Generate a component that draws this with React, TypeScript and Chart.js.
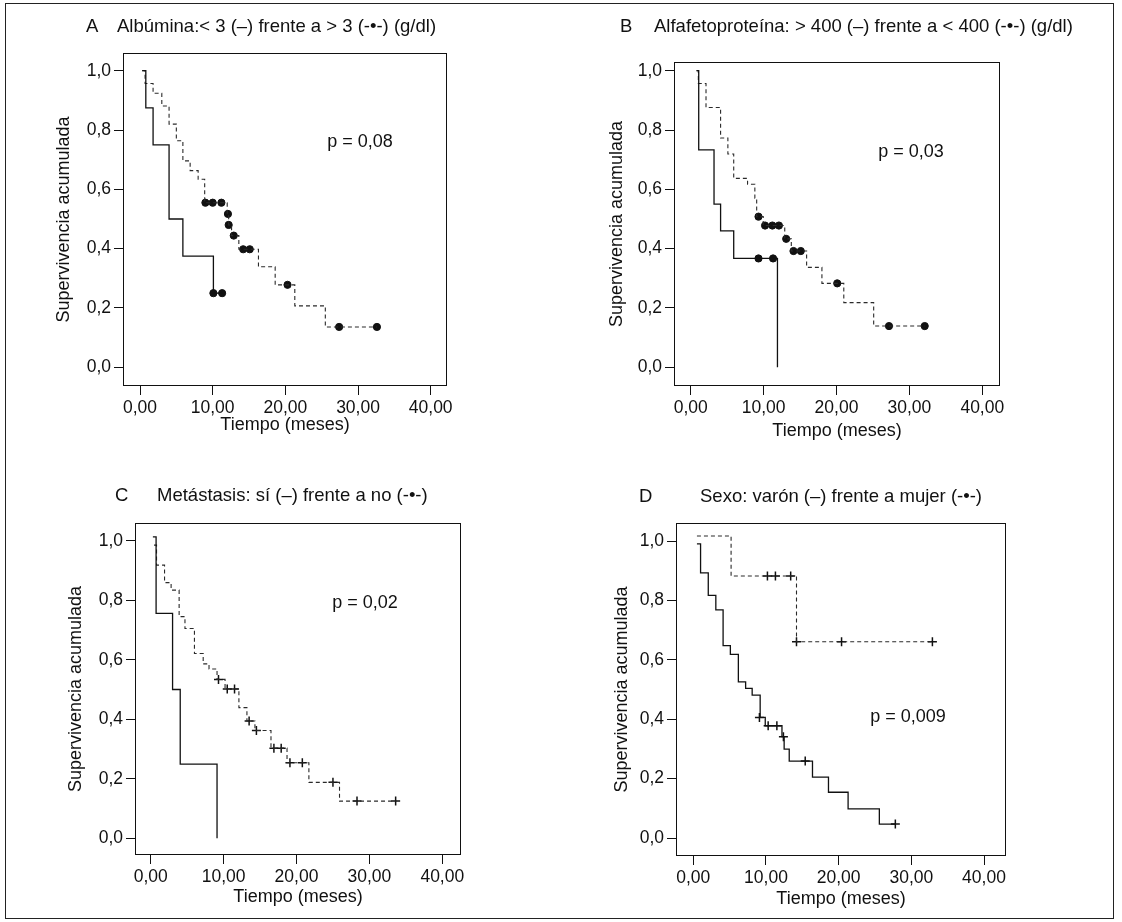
import React, { useEffect, useRef } from "react";
import { Chart, registerables } from "chart.js";

Chart.register(...registerables);

const FONT = '"Liberation Sans", Arial, Helvetica, sans-serif';

// ---- tick values ----
const xTickValues = [0, 10, 20, 30, 40];
const yTickValues = [0, 0.2, 0.4, 0.6, 0.8, 1.0];

// ---- Panel A: Albúmina ----
const albLowTimes = [0.3, 0.8, 1.8, 4.0, 5.9, 10.1, 11.3];
const albLowSurv = [1.0, 0.875, 0.75, 0.5, 0.375, 0.25, 0.25];
const albLowCensTimes = [10.1, 11.3];
const albLowCensSurv = [0.25, 0.25];

const albHighTimes = [0.3, 0.7, 1.8, 3.0, 4.0, 5.0, 5.9, 6.9, 8.0, 8.9, 12.0, 12.2, 12.6, 13.6, 16.3, 18.6, 21.3, 25.5, 32.6];
const albHighSurv = [1.0, 0.957, 0.924, 0.881, 0.82, 0.764, 0.696, 0.663, 0.634, 0.555, 0.517, 0.48, 0.444, 0.398, 0.339, 0.278, 0.207, 0.136, 0.136];
const albHighCensTimes = [9.0, 10.0, 11.2, 12.1, 12.2, 12.9, 14.2, 15.1, 20.3, 27.4, 32.6];
const albHighCensSurv = [0.555, 0.555, 0.555, 0.517, 0.48, 0.444, 0.398, 0.398, 0.278, 0.136, 0.136];

// ---- Panel B: Alfafetoproteína ----
const afpHighTimes = [0.8, 1.1, 3.2, 4.1, 5.9, 11.9];
const afpHighSurv = [1.0, 0.733, 0.55, 0.46, 0.367, 0.0];
const afpHighCensTimes = [9.3, 11.3];
const afpHighCensSurv = [0.367, 0.367];

const afpLowTimes = [0.8, 1.05, 2.1, 4.1, 5.1, 5.9, 7.8, 8.8, 9.05, 9.95, 12.9, 13.8, 15.9, 18.0, 21.0, 25.1, 32.1];
const afpLowSurv = [1.0, 0.957, 0.876, 0.773, 0.719, 0.637, 0.617, 0.57, 0.508, 0.478, 0.433, 0.392, 0.337, 0.283, 0.218, 0.139, 0.139];
const afpLowCensTimes = [9.3, 10.2, 11.2, 12.1, 13.1, 14.1, 15.1, 20.1, 27.2, 32.1];
const afpLowCensSurv = [0.508, 0.478, 0.478, 0.478, 0.433, 0.392, 0.392, 0.283, 0.139, 0.139];

// ---- Panel C: Metástasis ----
const metYesTimes = [0.3, 0.74, 3.0, 4.05, 9.1];
const metYesSurv = [1.013, 0.756, 0.5, 0.249, 0.0];

const metNoTimes = [0.45, 0.8, 1.9, 2.8, 3.9, 4.7, 6.0, 7.2, 8.0, 9.1, 10.2, 12.1, 13.2, 14.3, 16.5, 18.7, 21.7, 25.9, 33.6];
const metNoSurv = [0.985, 0.918, 0.859, 0.834, 0.745, 0.705, 0.621, 0.586, 0.569, 0.534, 0.502, 0.439, 0.394, 0.362, 0.303, 0.254, 0.188, 0.125, 0.125];
const metNoCensTimes = [9.3, 10.5, 11.5, 13.5, 14.5, 16.9, 17.9, 19.1, 20.8, 25.0, 28.3, 33.6];
const metNoCensSurv = [0.534, 0.502, 0.502, 0.394, 0.362, 0.303, 0.303, 0.254, 0.254, 0.188, 0.125, 0.125];

// ---- Panel D: Sexo ----
const maleTimes = [0.5, 1.0, 2.06, 3.1, 4.1, 5.1, 6.2, 7.2, 8.1, 9.2, 9.9, 12.2, 12.5, 13.2, 16.4, 18.6, 21.3, 25.6, 27.8];
const maleSurv = [0.99, 0.893, 0.817, 0.768, 0.648, 0.618, 0.526, 0.504, 0.481, 0.406, 0.378, 0.341, 0.299, 0.259, 0.205, 0.154, 0.098, 0.047, 0.047];
const maleCensTimes = [9.1, 10.3, 11.5, 12.4, 15.4, 27.8];
const maleCensSurv = [0.406, 0.378, 0.378, 0.341, 0.259, 0.047];

const femaleTimes = [0.5, 5.2, 14.2, 32.9];
const femaleSurv = [1.017, 0.882, 0.661, 0.661];
const femaleCensTimes = [10.2, 11.3, 13.4, 14.2, 20.4, 32.9];
const femaleCensSurv = [0.882, 0.882, 0.882, 0.661, 0.661, 0.661];

type Curve = {
  t: number[];
  s: number[];
  ct: number[];
  cs: number[];
  dashed: boolean;
};

type PanelCfg = {
  id: string;
  letter: string;
  title: string;
  pText: string;
  marker: "circle" | "cross";
  curves: Curve[];
  box: { L: number; R: number; T: number; B: number };
  x0: number;
  x40: number;
  y1: number;
  y0: number;
  yTitleCx: number;
  xTitleCy: number;
  letterX: number;
  titleX: number;
  titleBase: number;
  pX: number;
  pY: number;
};

const panels: PanelCfg[] = [
  {
    id: "A",
    letter: "A",
    title: "Albúmina:< 3 (–) frente a > 3 (-•-) (g/dl)",
    pText: "p = 0,08",
    marker: "circle",
    curves: [
      { t: albLowTimes, s: albLowSurv, ct: albLowCensTimes, cs: albLowCensSurv, dashed: false },
      { t: albHighTimes, s: albHighSurv, ct: albHighCensTimes, cs: albHighCensSurv, dashed: true },
    ],
    box: { L: 123, R: 447, T: 53, B: 386 },
    x0: 140, x40: 430.7, y1: 70.7, y0: 367.3,
    yTitleCx: 64, xTitleCy: 425,
    letterX: 86, titleX: 117, titleBase: 33,
    pX: 360, pY: 141,
  },
  {
    id: "B",
    letter: "B",
    title: "Alfafetoproteína: > 400 (–) frente a < 400 (-•-) (g/dl)",
    pText: "p = 0,03",
    marker: "circle",
    curves: [
      { t: afpHighTimes, s: afpHighSurv, ct: afpHighCensTimes, cs: afpHighCensSurv, dashed: false },
      { t: afpLowTimes, s: afpLowSurv, ct: afpLowCensTimes, cs: afpLowCensSurv, dashed: true },
    ],
    box: { L: 674, R: 1000, T: 62, B: 386 },
    x0: 690.7, x40: 982.3, y1: 70.7, y0: 367.3,
    yTitleCx: 617, xTitleCy: 431,
    letterX: 620, titleX: 654, titleBase: 33,
    pX: 911, pY: 151,
  },
  {
    id: "C",
    letter: "C",
    title: "Metástasis: sí (–) frente a no (-•-)",
    pText: "p = 0,02",
    marker: "cross",
    curves: [
      { t: metYesTimes, s: metYesSurv, ct: [], cs: [], dashed: false },
      { t: metNoTimes, s: metNoSurv, ct: metNoCensTimes, cs: metNoCensSurv, dashed: true },
    ],
    box: { L: 135, R: 461, T: 523, B: 855 },
    x0: 150.7, x40: 442.3, y1: 540.7, y0: 838.3,
    yTitleCx: 76, xTitleCy: 897,
    letterX: 115, titleX: 157, titleBase: 502,
    pX: 365, pY: 602,
  },
  {
    id: "D",
    letter: "D",
    title: "Sexo: varón (–) frente a mujer (-•-)",
    pText: "p = 0,009",
    marker: "cross",
    curves: [
      { t: maleTimes, s: maleSurv, ct: maleCensTimes, cs: maleCensSurv, dashed: false },
      { t: femaleTimes, s: femaleSurv, ct: femaleCensTimes, cs: femaleCensSurv, dashed: true },
    ],
    box: { L: 676, R: 1006, T: 523, B: 856 },
    x0: 693.3, x40: 984, y1: 541, y0: 838,
    yTitleCx: 622, xTitleCy: 899,
    letterX: 639, titleX: 700, titleBase: 503,
    pX: 908, pY: 716,
  },
];

const TICK_FS = 17.5;
const TITLE_FS = 18.5;
const AXIS_FS = 18;
const P_FS = 18;
const INK = "#111";

const boxPlugin = {
  id: "plotBox",
  afterDraw(chart: any) {
    const { ctx, chartArea: a } = chart;
    ctx.save();
    ctx.strokeStyle = INK;
    ctx.lineWidth = 1;
    ctx.strokeRect(a.left + 0.5, a.top + 0.5, a.right - a.left - 1, a.bottom - a.top - 1);
    ctx.restore();
  },
};

function Panel({ cfg }: { cfg: PanelCfg }) {
  const ref = useRef<HTMLCanvasElement | null>(null);

  const lh = AXIS_FS * 1.2;
  const canvasLeft = Math.floor(cfg.yTitleCx - 20);
  const canvasTop = cfg.box.T - 20;
  const canvasRight = cfg.box.R + 10;
  const canvasBottom = Math.ceil(cfg.xTitleCy + lh / 2 + 4);
  const width = canvasRight - canvasLeft;
  const height = canvasBottom - canvasTop;
  const yScaleW = cfg.box.L - canvasLeft;
  const xScaleH = canvasBottom - cfg.box.B;
  const yTitlePad = cfg.yTitleCx - canvasLeft - lh / 2;
  const xTitlePad = canvasBottom - cfg.xTitleCy - lh / 2;

  const pxPerX = (cfg.x40 - cfg.x0) / 40;
  const xMin = (cfg.box.L - cfg.x0) / pxPerX;
  const xMax = (cfg.box.R - cfg.x0) / pxPerX;
  const pxPerY = cfg.y0 - cfg.y1;
  const yMax = (cfg.y0 - cfg.box.T) / pxPerY;
  const yMin = (cfg.y0 - cfg.box.B) / pxPerY;

  useEffect(() => {
    if (!ref.current) return;
    const datasets: any[] = [];
    cfg.curves.forEach((c) => {
      datasets.push({
        type: "line",
        data: c.t.map((x, i) => ({ x, y: c.s[i] })),
        stepped: true,
        borderColor: c.dashed ? "#2a2a2a" : INK,
        borderWidth: c.dashed ? 1.1 : 1.3,
        borderDash: c.dashed ? [4, 3] : [],
        pointRadius: 0,
        fill: false,
        tension: 0,
      });
    });
    cfg.curves.forEach((c) => {
      if (!c.ct.length) return;
      datasets.push({
        type: "scatter",
        data: c.ct.map((x, i) => ({ x, y: c.cs[i] })),
        showLine: false,
        pointStyle: cfg.marker,
        pointRadius: cfg.marker === "circle" ? 3.6 : 4.5,
        pointBorderWidth: cfg.marker === "circle" ? 1 : 1.5,
        backgroundColor: INK,
        borderColor: INK,
      });
    });

    const chart = new Chart(ref.current, {
      type: "line",
      data: { datasets },
      plugins: [boxPlugin],
      options: {
        animation: false,
        responsive: false,
        maintainAspectRatio: false,
        layout: { padding: { left: 0, top: 20, right: 10, bottom: 0 } },
        plugins: { legend: { display: false }, tooltip: { enabled: false } },
        scales: {
          x: {
            type: "linear",
            min: xMin,
            max: xMax,
            afterBuildTicks: (s: any) => {
              s.ticks = xTickValues.map((v) => ({ value: v }));
            },
            afterFit: (s: any) => {
              s.height = xScaleH;
            },
            ticks: {
              autoSkip: false,
              maxRotation: 0,
              padding: 3,
              color: INK,
              font: { family: FONT, size: TICK_FS },
              callback: (v: any) => Number(v).toFixed(2).replace(".", ","),
            },
            grid: { drawOnChartArea: false, drawTicks: true, tickLength: 9, color: INK, lineWidth: 1 },
            border: { display: false },
            title: {
              display: true,
              text: "Tiempo (meses)",
              color: INK,
              font: { family: FONT, size: AXIS_FS },
              padding: { top: 0, bottom: xTitlePad },
            },
          },
          y: {
            type: "linear",
            min: yMin,
            max: yMax,
            afterBuildTicks: (s: any) => {
              s.ticks = yTickValues.map((v) => ({ value: v }));
            },
            afterFit: (s: any) => {
              s.width = yScaleW;
            },
            ticks: {
              autoSkip: false,
              padding: 3,
              color: INK,
              font: { family: FONT, size: TICK_FS },
              callback: (v: any) => Number(v).toFixed(1).replace(".", ","),
            },
            grid: { drawOnChartArea: false, drawTicks: true, tickLength: 9, color: INK, lineWidth: 1 },
            border: { display: false },
            title: {
              display: true,
              text: "Supervivencia acumulada",
              color: INK,
              font: { family: FONT, size: AXIS_FS },
              padding: { top: yTitlePad, bottom: 0 },
            },
          },
        },
      } as any,
    });
    return () => chart.destroy();
  }, []);

  const baseTop = (base: number, fs: number) => base - 0.8465 * fs;

  return (
    <>
      <canvas
        ref={ref}
        width={width}
        height={height}
        style={{ position: "absolute", left: canvasLeft, top: canvasTop, width, height }}
      />
      <div
        style={{
          position: "absolute",
          left: cfg.letterX,
          top: baseTop(cfg.titleBase, TITLE_FS),
          fontSize: TITLE_FS,
          lineHeight: TITLE_FS + "px",
          whiteSpace: "nowrap",
          color: INK,
        }}
      >
        {cfg.letter}
      </div>
      <div
        style={{
          position: "absolute",
          left: cfg.titleX,
          top: baseTop(cfg.titleBase, TITLE_FS),
          fontSize: TITLE_FS,
          lineHeight: TITLE_FS + "px",
          whiteSpace: "nowrap",
          color: INK,
        }}
      >
        {cfg.title}
      </div>
      <div
        style={{
          position: "absolute",
          left: cfg.pX,
          top: cfg.pY - 0.49 * P_FS,
          fontSize: P_FS,
          lineHeight: P_FS + "px",
          whiteSpace: "nowrap",
          transform: "translateX(-50%)",
          color: INK,
        }}
      >
        {cfg.pText}
      </div>
    </>
  );
}

export default function App() {
  return (
    <div
      style={{
        position: "absolute",
        left: 0,
        top: 0,
        width: 1122,
        height: 922,
        background: "#fff",
        fontFamily: FONT,
        overflow: "hidden",
      }}
    >
      <div
        style={{
          position: "absolute",
          left: 5,
          top: 3,
          width: 1109,
          height: 916,
          border: "1px solid #222",
          boxSizing: "border-box",
        }}
      />
      {panels.map((p) => (
        <Panel key={p.id} cfg={p} />
      ))}
    </div>
  );
}
